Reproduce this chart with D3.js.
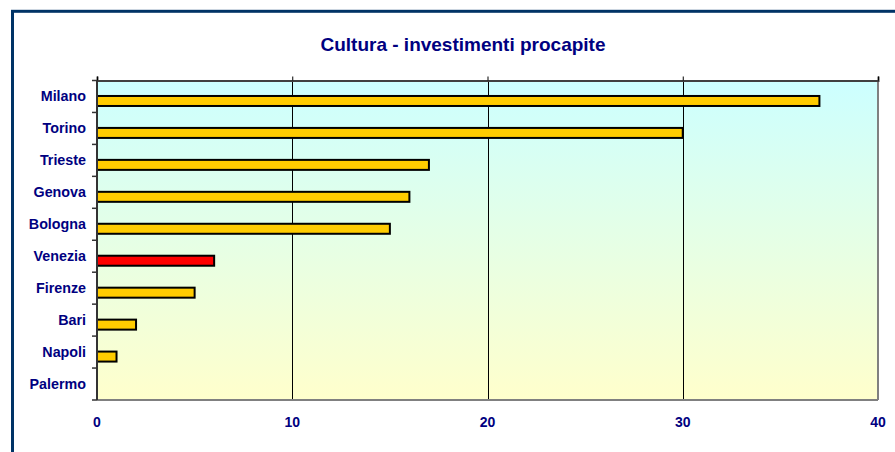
<!DOCTYPE html>
<html>
<head>
<meta charset="utf-8">
<script src="https://cdn.jsdelivr.net/npm/d3@7"></script>
<style>
  body { margin: 0; background: #fff; }
  text { font-family: Arial, "Liberation Sans", sans-serif; font-weight: bold; fill: #000080; }
</style>
</head>
<body>
<script>
// Data
var cities = ["Milano", "Torino", "Trieste", "Genova", "Bologna", "Venezia", "Firenze", "Bari", "Napoli", "Palermo"];
var values = [37, 30, 17, 16, 15, 6, 5, 2, 1, 0];
var highlight = ["Venezia"];
var xTicks = [0, 10, 20, 30, 40];

var svgWidth = 895;
var svgHeight = 452;

var margin = { top: 80.5, right: 17, bottom: 52, left: 97 };
var width = svgWidth - margin.left - margin.right;
var height = svgHeight - margin.top - margin.bottom;

var svg = d3.select("body")
  .append("svg")
  .attr("width", svgWidth)
  .attr("height", svgHeight);

// outer frame (runs past the window on right and bottom)
svg.append("rect")
  .attr("x", 12.5)
  .attr("y", 11.3)
  .attr("width", 1000)
  .attr("height", 1000)
  .attr("fill", "none")
  .attr("stroke", "#003366")
  .attr("stroke-width", 3);

// background gradient
var grad = svg.append("defs").append("linearGradient")
  .attr("id", "bg")
  .attr("x1", 0).attr("y1", 0).attr("x2", 0).attr("y2", 1);
grad.append("stop").attr("offset", "0%").attr("stop-color", "#CCFFFF");
grad.append("stop").attr("offset", "100%").attr("stop-color", "#FFFFCC");

var chart = svg.append("g")
  .attr("transform", `translate(${margin.left}, ${margin.top})`);

var x = d3.scaleLinear().domain([0, 40]).range([0, width]);
var y = d3.scaleBand().domain(cities).range([0, height]).padding(0);

chart.append("rect")
  .attr("width", width)
  .attr("height", height)
  .attr("fill", "url(#bg)");

// gridlines
chart.append("g")
  .selectAll("line")
  .data(xTicks.slice(1, -1))
  .enter()
  .append("line")
  .attr("x1", d => Math.round(x(d)) + 0.5)
  .attr("x2", d => Math.round(x(d)) + 0.5)
  .attr("y1", 0)
  .attr("y2", height)
  .attr("stroke", "#000")
  .attr("stroke-width", 1);

// plot border: right and bottom grey
chart.append("line")
  .attr("x1", width).attr("x2", width)
  .attr("y1", 0).attr("y2", height)
  .attr("stroke", "#808080").attr("stroke-width", 2);
chart.append("line")
  .attr("x1", 0).attr("x2", width)
  .attr("y1", height).attr("y2", height)
  .attr("stroke", "#808080").attr("stroke-width", 2);

// top axis with small ticks, no labels
var topAxis = chart.append("g")
  .call(d3.axisTop(x).tickValues(xTicks).tickSize(4).tickFormat(""));
topAxis.select(".domain").attr("stroke", "#404040").attr("stroke-width", 2);
topAxis.selectAll(".tick line").attr("stroke", "#000");

// bars
chart.append("g")
  .selectAll("rect")
  .data(cities)
  .enter()
  .append("rect")
  .attr("x", 0)
  .attr("y", (d, i) => y(d) + y.bandwidth() / 2 - 0.5)
  .attr("width", (d, i) => x(values[i]))
  .attr("height", 10)
  .attr("fill", d => highlight.indexOf(d) >= 0 ? "#FF0000" : "#FFCC00")
  .attr("stroke", "#000")
  .attr("stroke-width", 2)
  .style("display", (d, i) => values[i] > 0 ? null : "none");

// left axis
var yTickPos = cities.map(d => y(d)).concat([height]);
var leftAxis = chart.append("g");
leftAxis.append("line")
  .attr("x1", 0).attr("x2", 0)
  .attr("y1", 0).attr("y2", height)
  .attr("stroke", "#333").attr("stroke-width", 2);
leftAxis.selectAll(".tk")
  .data(yTickPos)
  .enter()
  .append("line")
  .attr("x1", -5).attr("x2", 0)
  .attr("y1", d => d).attr("y2", d => d)
  .attr("stroke", "#333").attr("stroke-width", 1.5);

leftAxis.selectAll("text")
  .data(cities)
  .enter()
  .append("text")
  .attr("x", -11)
  .attr("y", d => y(d) + y.bandwidth() / 2)
  .attr("dy", "0.35em")
  .attr("text-anchor", "end")
  .style("font-size", "14.3px")
  .text(d => d);

// bottom labels
chart.append("g")
  .selectAll("text")
  .data(xTicks)
  .enter()
  .append("text")
  .attr("x", d => x(d))
  .attr("y", height + 26.5)
  .attr("text-anchor", "middle")
  .style("font-size", "14px")
  .text(d => d);

// title
svg.append("text")
  .attr("x", 463)
  .attr("y", 51)
  .attr("text-anchor", "middle")
  .style("font-size", "19px")
  .text("Cultura - investimenti procapite");
</script>
</body>
</html>
